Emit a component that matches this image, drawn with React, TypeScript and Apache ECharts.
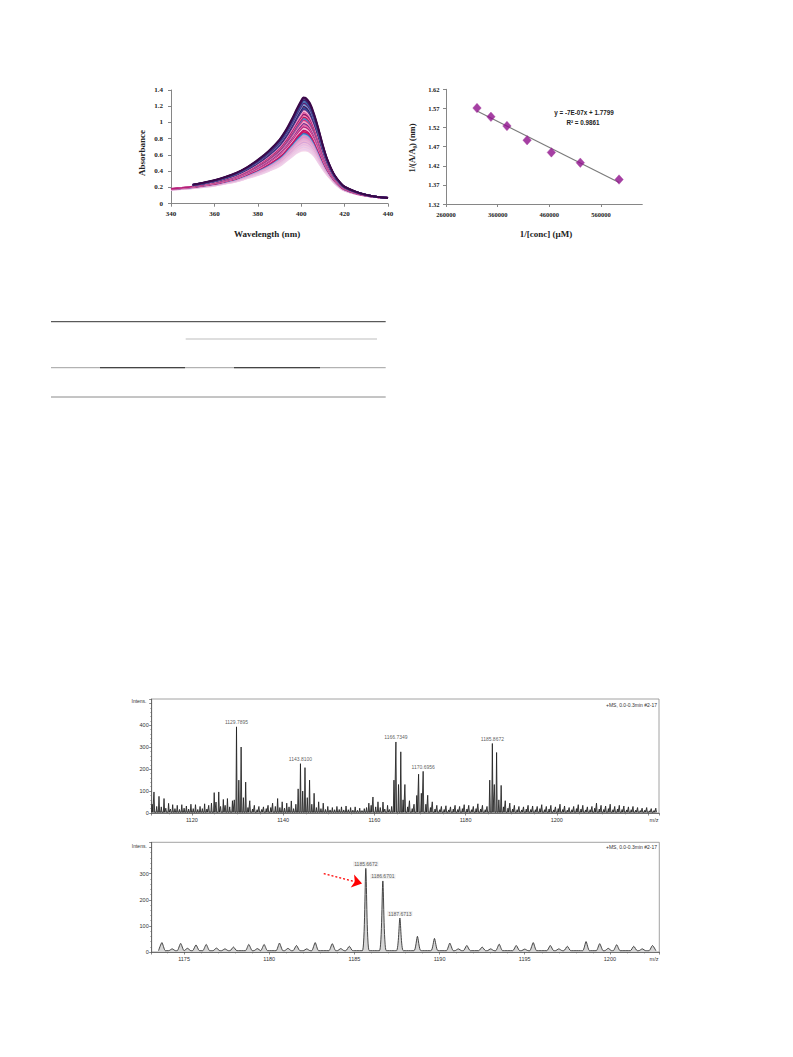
import React, { useEffect, useRef } from "react";
import * as echarts from "echarts";

// ---------- UV-vis titration (Absorbance vs Wavelength) ----------
const wavelengths = [340, 345, 350, 355, 360, 365, 370, 375, 380, 385, 390, 393, 396, 398, 400, 401, 402, 404, 406, 408, 410, 412, 415, 418, 420, 425, 430, 435, 440];
const highestCurve = [0.2, 0.215, 0.235, 0.26, 0.29, 0.33, 0.38, 0.45, 0.54, 0.65, 0.79, 0.91, 1.06, 1.17, 1.27, 1.31, 1.305, 1.24, 1.1, 0.92, 0.72, 0.55, 0.37, 0.26, 0.21, 0.15, 0.11, 0.085, 0.07];
const lowestCurve = [0.17, 0.18, 0.19, 0.205, 0.22, 0.245, 0.27, 0.31, 0.35, 0.4, 0.46, 0.52, 0.58, 0.62, 0.645, 0.65, 0.648, 0.63, 0.58, 0.5, 0.42, 0.35, 0.26, 0.19, 0.16, 0.12, 0.095, 0.08, 0.07];
const curvePeaks = [1.31, 1.295, 1.275, 1.255, 1.235, 1.215, 1.195, 1.175, 1.16, 1.14, 1.12, 1.1, 1.085, 1.065, 1.045, 1.025, 1.005, 0.985, 0.965, 0.945, 0.925, 0.905, 0.885, 0.865, 0.85, 0.835, 0.82, 0.805, 0.79, 0.775, 0.76, 0.745, 0.73, 0.715, 0.7, 0.685, 0.67, 0.655];
const curveColors = ["#3a0848", "#4b0f5e", "#2f2a6e", "#3f66b0", "#5a1a6e", "#7aa0d4", "#3b0d52", "#2d4f9e", "#6a1b7a", "#f0b8d6", "#e0529a", "#8e1a6e", "#f28cb8", "#c2185b", "#4c7cc4", "#d63384", "#f2a8ca", "#7a2a8a", "#e66aa6", "#b5207a", "#f3c0dc", "#c0136a", "#d1105a", "#3d6fc0", "#8fb4e0", "#ec8fbf", "#d39ad6", "#eea8cc", "#dcb0de", "#f0b6d4", "#d6a6da", "#f2c2dc", "#e2bce4", "#f3c8e0", "#e6c6e8", "#f4cfe4", "#eacdee", "#f5d4e8"];

// ---------- Double reciprocal plot ----------
const inverseConc = [320000, 347000, 378000, 417000, 464000, 520000, 595000];
const inverseRatio = [1.571, 1.548, 1.524, 1.487, 1.455, 1.428, 1.384];

// ---------- Mass spectrum (top) ----------
const topMz = [1111.7, 1112.8, 1113.9, 1114.9, 1115.8, 1116.8, 1117.8, 1118.8, 1119.8, 1120.8, 1121.8, 1122.8, 1123.7, 1124.9, 1125.9, 1126.9, 1127.8, 1128.9, 1129.79, 1130.8, 1131.8, 1132.7, 1133.7, 1134.7, 1135.7, 1136.7, 1137.7, 1138.8, 1139.8, 1140.8, 1141.8, 1142.8, 1143.81, 1144.8, 1145.8, 1146.8, 1147.8, 1148.8, 1149.8, 1150.8, 1151.8, 1152.8, 1153.8, 1154.8, 1155.8, 1156.8, 1157.8, 1158.8, 1159.7, 1160.8, 1161.9, 1162.9, 1163.8, 1164.73, 1165.8, 1166.7, 1167.7, 1168.7, 1169.7, 1170.7, 1171.7, 1172.7, 1173.7, 1174.7, 1175.7, 1176.7, 1177.7, 1178.7, 1179.7, 1180.7, 1181.7, 1182.7, 1183.7, 1184.7, 1185.87, 1186.8, 1187.8, 1188.7, 1189.7, 1190.7, 1191.7, 1192.7, 1193.7, 1194.7, 1195.7, 1196.7, 1197.7, 1198.7, 1199.7, 1200.7, 1201.7, 1202.7, 1203.7, 1204.7, 1205.7, 1206.7, 1207.7, 1208.7, 1209.7, 1210.7, 1211.7, 1212.7, 1213.7, 1214.7, 1215.7, 1216.7, 1217.7, 1218.7, 1219.7, 1220.7, 1221.7];
const topIntensity = [96, 76, 66, 44, 38, 35, 38, 32, 40, 38, 30, 42, 35, 93, 96, 62, 66, 56, 393, 301, 141, 56, 35, 30, 28, 35, 45, 66, 51, 45, 55, 40, 225, 207, 150, 90, 51, 45, 30, 25, 30, 28, 32, 25, 28, 22, 20, 45, 73, 51, 50, 35, 30, 324, 279, 130, 56, 40, 177, 190, 81, 51, 35, 30, 33, 28, 35, 30, 38, 35, 30, 42, 35, 30, 317, 276, 126, 56, 45, 35, 30, 28, 35, 32, 30, 38, 30, 35, 28, 40, 32, 25, 30, 38, 35, 28, 30, 45, 35, 32, 40, 30, 35, 32, 28, 30, 25, 22, 25, 20, 22];
// smaller sticks lying between the main ones (m/z 1111.3 ... 1221.3)
const topMinorMz = [1111.3, 1112.3, 1113.3, 1114.3, 1115.3, 1116.3, 1117.3, 1118.3, 1119.3, 1120.3, 1121.3, 1122.3, 1123.3, 1124.3, 1125.3, 1126.3, 1127.3, 1128.3, 1129.3, 1130.3, 1131.3, 1132.3, 1133.3, 1134.3, 1135.3, 1136.3, 1137.3, 1138.3, 1139.3, 1140.3, 1141.3, 1142.3, 1143.3, 1144.3, 1145.3, 1146.3, 1147.3, 1148.3, 1149.3, 1150.3, 1151.3, 1152.3, 1153.3, 1154.3, 1155.3, 1156.3, 1157.3, 1158.3, 1159.3, 1160.3, 1161.3, 1162.3, 1163.3, 1164.3, 1165.3, 1166.3, 1167.3, 1168.3, 1169.3, 1170.3, 1171.3, 1172.3, 1173.3, 1174.3, 1175.3, 1176.3, 1177.3, 1178.3, 1179.3, 1180.3, 1181.3, 1182.3, 1183.3, 1184.3, 1185.3, 1186.3, 1187.3, 1188.3, 1189.3, 1190.3, 1191.3, 1192.3, 1193.3, 1194.3, 1195.3, 1196.3, 1197.3, 1198.3, 1199.3, 1200.3, 1201.3, 1202.3, 1203.3, 1204.3, 1205.3, 1206.3, 1207.3, 1208.3, 1209.3, 1210.3, 1211.3, 1212.3, 1213.3, 1214.3, 1215.3, 1216.3, 1217.3, 1218.3, 1219.3, 1220.3, 1221.3];
const topMinorIntensity = [40, 30, 28, 22, 18, 20, 16, 22, 18, 20, 16, 20, 18, 45, 50, 30, 35, 28, 60, 150, 70, 25, 18, 15, 16, 20, 25, 30, 25, 22, 28, 20, 110, 100, 70, 40, 25, 20, 16, 14, 15, 16, 14, 15, 13, 12, 11, 25, 35, 28, 25, 18, 16, 150, 130, 60, 28, 20, 80, 90, 40, 25, 18, 15, 16, 14, 18, 16, 20, 18, 15, 20, 18, 15, 150, 130, 60, 28, 22, 18, 15, 14, 18, 16, 15, 20, 15, 18, 14, 20, 16, 13, 15, 20, 18, 14, 15, 22, 18, 16, 20, 15, 18, 16, 14, 15, 13, 11, 13, 10, 11];
const topLabelMz = [1129.79, 1143.81, 1164.73, 1170.7, 1185.87];
const topLabelIntensity = [393, 225, 324, 190, 317];
const topLabelText = ["1129.7895", "1143.8100", "1166.7349", "1170.6956", "1185.8672"];

// ---------- Mass spectrum (bottom) ----------
const bottomMz = [1173.7, 1174.3, 1174.8, 1175.2, 1175.7, 1176.3, 1176.9, 1177.4, 1177.9, 1178.8, 1179.3, 1179.7, 1180.6, 1181.1, 1181.6, 1182.2, 1182.7, 1183.7, 1184.2, 1184.7, 1185.67, 1186.67, 1187.67, 1188.7, 1189.7, 1190.6, 1191.1, 1191.6, 1192.5, 1193.0, 1193.5, 1194.5, 1195.0, 1195.5, 1196.5, 1197.0, 1197.5, 1198.6, 1199.4, 1199.9, 1200.4, 1201.4, 1201.9, 1202.5];
const bottomIntensity = [36, 12, 33, 14, 27, 29, 15, 12, 19, 29, 13, 29, 34, 14, 25, 12, 36, 32, 13, 22, 320, 272, 130, 60, 52, 34, 12, 25, 19, 12, 30, 25, 11, 36, 25, 12, 22, 40, 32, 14, 28, 22, 12, 25];
const bottomLabelMz = [1185.67, 1186.67, 1187.67];
const bottomLabelIntensity = [320, 272, 130];
const bottomLabelText = ["1185.6672", "1186.6701", "1187.6713"];
const arrowStart = [1183.2, 300];
const arrowEnd = [1185.45, 262];

const SERIF = '"Liberation Serif", "DejaVu Serif", serif';
const SANS = '"Liberation Sans", Arial, sans-serif';

function peakProfile(mz: number[], inten: number[], hw: number, base: number) {
  const idx = mz.map((_, i) => i).sort((a, b) => mz[a] - mz[b]);
  const pts: number[][] = [];
  idx.forEach((i) => {
    pts.push([mz[i] - hw, base], [mz[i], inten[i]], [mz[i] + hw, base]);
  });
  return pts;
}

function buildOption() {
  const peakIdx = wavelengths.indexOf(401);
  const hiP = highestCurve[peakIdx];
  const loP = lowestCurve[peakIdx];

  const uvSeries: any[] = [];
  for (let k = curvePeaks.length - 1; k >= 0; k--) {
    const f = (curvePeaks[k] - loP) / (hiP - loP);
    const startW = curvePeaks[k] >= 0.95 ? 350 : 340;
    const data: number[][] = [];
    wavelengths.forEach((w, i) => {
      if (w >= startW) data.push([w, lowestCurve[i] + f * (highestCurve[i] - lowestCurve[i])]);
    });
    uvSeries.push({
      type: "line",
      xAxisIndex: 0,
      yAxisIndex: 0,
      data,
      smooth: 0.35,
      symbol: "none",
      lineStyle: { color: curveColors[k], width: 1.8 },
      silent: true,
    });
  }

  // least-squares trend line of the reciprocal plot
  const n = inverseConc.length;
  const mx = inverseConc.reduce((a, b) => a + b, 0) / n;
  const my = inverseRatio.reduce((a, b) => a + b, 0) / n;
  let sxy = 0, sxx = 0;
  for (let i = 0; i < n; i++) {
    sxy += (inverseConc[i] - mx) * (inverseRatio[i] - my);
    sxx += (inverseConc[i] - mx) ** 2;
  }
  const slope = sxy / sxx;
  const icpt = my - slope * mx;
  const x0 = Math.min(...inverseConc);
  const x1 = Math.max(...inverseConc);

  const excelAxisLine = { show: true, lineStyle: { color: "#868686", width: 1 } };
  const excelTick = { show: true, length: 3, lineStyle: { color: "#868686" } };
  const excelLabel = (size: number, margin: number) => ({
    fontFamily: SERIF,
    fontWeight: "bold",
    fontSize: size,
    color: "#222",
    margin,
  });

  const msAxisLine = { show: true, lineStyle: { color: "#555", width: 0.8 } };
  const msTick = { show: true, length: 2.5, lineStyle: { color: "#555", width: 0.7 } };
  const msMinor = (split: number) => ({ show: true, splitNumber: split, length: 1.4, lineStyle: { color: "#666", width: 0.6 } });
  const msLabel = (margin: number) => ({ fontFamily: SANS, fontSize: 5.5, color: "#333", margin });

  const isStep = (v: number, step: number) => Math.abs(v - Math.round(v)) < 1e-6 && Math.round(v) % step === 0;

  const textEl = (text: string, x: number, y: number, font: string, opts: any = {}) => ({
    type: "text",
    x,
    y,
    rotation: opts.rotation || 0,
    silent: true,
    style: {
      text,
      fill: opts.fill || "#222",
      font,
      align: opts.align || "center",
      verticalAlign: "middle",
      textAlign: opts.align || "center",
      textVerticalAlign: "middle",
    },
  });
  const lineEl = (x1: number, y1: number, x2: number, y2: number, stroke: string, w: number) => ({
    type: "line",
    silent: true,
    shape: { x1, y1, x2, y2 },
    style: { stroke, lineWidth: w },
  });

  return {
    animation: false,
    backgroundColor: "#ffffff",
    grid: [
      { left: 171, top: 90, width: 217, height: 113.7 },
      { left: 446, top: 89.3, width: 196.3, height: 114.7 },
      { left: 151.7, top: 699, width: 507.3, height: 114, show: true, borderColor: "#8c8c8c", borderWidth: 0.8 },
      { left: 151.7, top: 842.3, width: 507.6, height: 109.7, show: true, borderColor: "#8c8c8c", borderWidth: 0.8 },
    ],
    xAxis: [
      {
        type: "value", gridIndex: 0, min: 340, max: 440, interval: 20,
        axisLine: excelAxisLine, axisTick: excelTick, splitLine: { show: false },
        axisLabel: excelLabel(7, 7),
      },
      {
        type: "value", gridIndex: 1, min: 260000, max: 640000, interval: 100000,
        axisLine: excelAxisLine, axisTick: excelTick, splitLine: { show: false },
        axisLabel: { ...excelLabel(6.5, 7), showMaxLabel: false, formatter: (v: number) => String(v) },
      },
      {
        type: "value", gridIndex: 2, min: 1111.2, max: 1222.4, splitNumber: 5,
        axisLine: msAxisLine, axisTick: msTick, minorTick: msMinor(4), splitLine: { show: false },
        axisLabel: { ...msLabel(4), formatter: (v: number) => (isStep(v, 20) && v < 1219 ? String(Math.round(v)) : "") },
      },
      {
        type: "value", gridIndex: 3, min: 1173.1, max: 1202.9, splitNumber: 5,
        axisLine: msAxisLine, axisTick: msTick, minorTick: msMinor(5), splitLine: { show: false },
        axisLabel: { ...msLabel(4), formatter: (v: number) => (isStep(v, 5) ? String(Math.round(v)) : "") },
      },
    ],
    yAxis: [
      {
        type: "value", gridIndex: 0, min: 0, max: 1.4, interval: 0.2,
        axisLine: excelAxisLine, axisTick: excelTick, splitLine: { show: false },
        axisLabel: excelLabel(7, 8),
      },
      {
        type: "value", gridIndex: 1, min: 1.32, max: 1.62, interval: 0.05,
        axisLine: excelAxisLine, axisTick: excelTick, splitLine: { show: false },
        axisLabel: { ...excelLabel(6.5, 6.5), formatter: (v: number) => v.toFixed(2) },
      },
      {
        type: "value", gridIndex: 2, min: 0, max: 520,
        axisLine: msAxisLine, axisTick: msTick, minorTick: msMinor(5), splitLine: { show: false },
        axisLabel: { ...msLabel(3), formatter: (v: number) => (isStep(v, 100) && v <= 400 ? String(Math.round(v)) : "") },
      },
      {
        type: "value", gridIndex: 3, min: 0, max: 420,
        axisLine: msAxisLine, axisTick: msTick, minorTick: msMinor(5), splitLine: { show: false },
        axisLabel: { ...msLabel(3), formatter: (v: number) => (isStep(v, 100) && v <= 300 ? String(Math.round(v)) : "") },
      },
    ],
    series: [
      ...uvSeries,
      {
        type: "line", xAxisIndex: 1, yAxisIndex: 1, symbol: "none", silent: true,
        data: [[x0, icpt + slope * x0], [x1, icpt + slope * x1]],
        lineStyle: { color: "#7a7a7a", width: 1.1 },
        z: 2,
      },
      {
        type: "scatter", xAxisIndex: 1, yAxisIndex: 1,
        data: inverseConc.map((x, i) => [x, inverseRatio[i]]),
        symbol: "diamond", symbolSize: [8.5, 9.5],
        itemStyle: { color: "#8e0f8c", borderColor: "#a8479f", borderWidth: 0.5 },
        z: 3,
      },
      {
        type: "line", xAxisIndex: 2, yAxisIndex: 2, symbol: "none", silent: true,
        data: peakProfile([...topMz, ...topMinorMz], [...topIntensity, ...topMinorIntensity], 0.14, 4),
        lineStyle: { color: "#1a1a1a", width: 0.8 },
        areaStyle: { color: "#9e9e9e", opacity: 1 },
      },
      {
        type: "scatter", xAxisIndex: 2, yAxisIndex: 2, symbolSize: 0, silent: true,
        data: topLabelMz.map((m, i) => ({ value: [m, topLabelIntensity[i]], label: { formatter: topLabelText[i] } })),
        label: { show: true, position: "top", distance: 2, fontFamily: SANS, fontSize: 5, color: "#333" },
      },
      {
        type: "line", xAxisIndex: 3, yAxisIndex: 3, symbol: "none", silent: true,
        data: peakProfile(bottomMz, bottomIntensity, 0.2, 5),
        smooth: 0.2,
        lineStyle: { color: "#333", width: 0.9 },
        areaStyle: { color: "#d6d6d6", opacity: 1 },
        markLine: {
          silent: true,
          symbol: ["none", "arrow"],
          symbolSize: 10,
          label: { show: false },
          lineStyle: { color: "#ff0000", width: 1.2, type: [2, 2] },
          itemStyle: { color: "#ff0000" },
          data: [[{ coord: arrowStart }, { coord: arrowEnd }]],
        },
      },
      {
        type: "scatter", xAxisIndex: 3, yAxisIndex: 3, symbolSize: 0, silent: true,
        data: bottomLabelMz.map((m, i) => ({ value: [m, bottomLabelIntensity[i]], label: { formatter: bottomLabelText[i] } })),
        label: {
          show: true, position: "top", distance: 2, fontFamily: SANS, fontSize: 5, color: "#333",
          backgroundColor: "rgba(232,232,232,0.85)", padding: [0, 1],
        },
      },
    ],
    graphic: [
      // axis titles of the UV chart
      textEl("Absorbance", 142, 153, `bold 9px ${SERIF}`, { rotation: Math.PI / 2 }),
      textEl("Wavelength (nm)", 267, 234, `bold 9px ${SERIF}`),
      // axis titles of the reciprocal plot
      textEl("1/(A/A\u2080) (nm)", 411.7, 148, `bold 8.5px ${SERIF}`, { rotation: Math.PI / 2 }),
      textEl("1/[conc] (\u00B5M)", 546, 233.7, `bold 9px ${SERIF}`),
      textEl("y = -7E-07x + 1.7799", 584, 112, `bold 6.3px ${SANS}`),
      textEl("R\u00B2 = 0.9861", 583, 122, `bold 6.3px ${SANS}`),
      // table rules
      lineEl(51, 321.7, 385.7, 321.7, "#333", 1),
      lineEl(185.7, 339, 377, 339, "#bdbdbd", 1.2),
      lineEl(51, 367.7, 385.7, 367.7, "#a0a0a0", 1),
      lineEl(100, 367.7, 185, 367.7, "#444", 1.2),
      lineEl(234, 367.7, 320, 367.7, "#444", 1.2),
      lineEl(51, 397, 385.7, 397, "#8a8a8a", 1),
      // mass spectra annotations
      textEl("Intens.", 139, 701, `5px ${SANS}`, { fill: "#333" }),
      textEl("+MS, 0.0-0.3min #2-17", 657, 705, `5px ${SANS}`, { fill: "#333", align: "right" }),
      textEl("m/z", 654, 820, `5.5px ${SANS}`, { fill: "#333" }),
      textEl("Intens.", 139.3, 846, `5px ${SANS}`, { fill: "#333" }),
      textEl("+MS, 0.0-0.3min #2-17", 657, 847, `5px ${SANS}`, { fill: "#333", align: "right" }),
      textEl("m/z", 654, 959, `5.5px ${SANS}`, { fill: "#333" }),
    ],
  };
}

export default function App() {
  const ref = useRef<HTMLDivElement>(null);
  useEffect(() => {
    if (!ref.current) return;
    const chart = echarts.init(ref.current, undefined, { renderer: "svg", width: 793, height: 1057 });
    chart.setOption(buildOption() as any);
    return () => chart.dispose();
  }, []);
  return (
    <div
      ref={ref}
      style={{ position: "absolute", left: 0, top: 0, width: 793, height: 1057, background: "#fff" }}
    />
  );
}
